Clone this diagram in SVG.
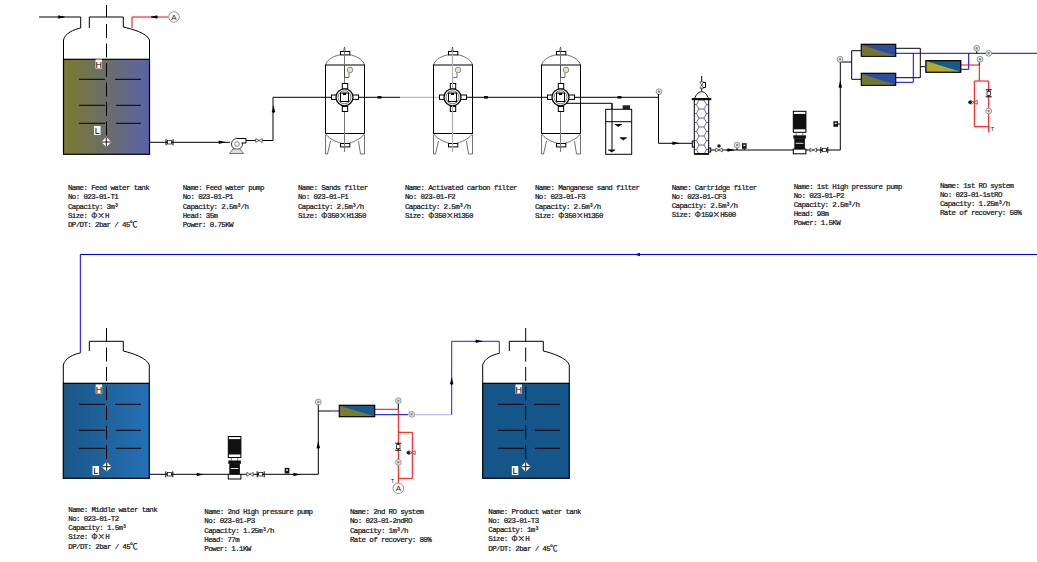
<svg xmlns="http://www.w3.org/2000/svg" xmlns:xlink="http://www.w3.org/1999/xlink" width="1037" height="562" viewBox="0 0 1037 562">
<style>
text{font-family:"Liberation Mono","Noto Sans CJK SC",monospace;font-size:7.5px;letter-spacing:-.64px;fill:#14161f;stroke:#14161f;stroke-width:.22px}
.w{font-family:"Noto Sans CJK SC",sans-serif;letter-spacing:0;font-size:7.6px}
.lv{font-family:"Liberation Sans",sans-serif;font-size:9px;letter-spacing:0;fill:#000;stroke:none;text-anchor:middle}
.t{font-family:"Liberation Sans",sans-serif;font-size:5px;letter-spacing:0;fill:#000;stroke:none}
.a{font-family:"Liberation Sans",sans-serif;font-size:8px;letter-spacing:0;fill:#222;stroke:none;text-anchor:middle}
.k{fill:none;stroke:#000;stroke-width:1}
.b{fill:none;stroke:#0000e6;stroke-width:1}
.r{fill:none;stroke:#f00;stroke-width:1}
.g{fill:none;stroke:#aaa;stroke-width:1}
.p{fill:none;stroke:#3a14d8;stroke-width:1}
.d{fill:none;stroke:#000;stroke-width:1;stroke-dasharray:14 5.5}
.thin{fill:none;stroke:#333;stroke-width:.7}
.wf{fill:#fff;stroke:#000;stroke-width:1}
</style>
<defs>
<linearGradient id="gOlive"><stop offset="0" stop-color="#7a7a2e"/><stop offset=".5" stop-color="#6b6e6a"/><stop offset="1" stop-color="#5a62a8"/></linearGradient>
<linearGradient id="gBlue"><stop offset="0" stop-color="#195787"/><stop offset="1" stop-color="#2570b5"/></linearGradient>
<pattern id="hex" width="15" height="9" patternUnits="userSpaceOnUse" x="694" y="100">
<path d="M2.500 4.500L5 0H10L12.500 4.500L10 9H5ZM0 4.500H2.500M12.500 4.500H15" fill="none" stroke="#27308a" stroke-width=".7"/>
</pattern>
<g id="arr"><polygon points="-3.2,-1.8 3.2,0 -3.2,1.8" fill="#000"/><path d="M-4 0h7" stroke="#000"/></g>
<g id="valve"><path d="M-3.500-3V3M3.500-3V3M-3.500 0h7" stroke="#000" fill="none"/><rect x="-2" y="-1.700" width="4" height="3.400" fill="#fff" stroke="#000" stroke-width=".7"/></g>
<g id="check"><path d="M-3.200-2L3.200 2V-2L-3.200 2Z" fill="#fff" stroke="#333" stroke-width=".7"/></g>
<g id="gauge"><circle r="2.900" fill="#e6ecd8" stroke="#8c8c8c" stroke-width=".9"/><circle r="1.200" fill="#7890b8"/></g>
<g id="inst"><rect x="-2.300" y="-2.800" width="4.600" height="5.600" fill="#111"/><rect x="-1" y="-1.400" width="2" height="1.600" fill="#ddd"/></g>
<g id="wm"><path d="M-3.500 0h7L0 2.600Z" fill="#111"/><path d="M-3.500 0h7" stroke="#111"/></g>
<g id="pumpV">
<rect x="0" y="0" width="12.600" height="21" fill="#111" stroke="#000"/><rect x=".6" y=".6" width="11.400" height="2" fill="#fff"/><rect x=".6" y="18" width="11.400" height="2.500" fill="#fff"/>
<path d="M3 21.500v3M9.500 21.500v3" stroke="#777"/>
<rect x="0" y="24" width="12.600" height="3.400" fill="#111"/>
<rect x="1" y="27" width="10.600" height="11" fill="#111"/><rect x="2.500" y="31.500" width="7.600" height="1" fill="#ddd"/>
<rect x="0" y="37.800" width="12.600" height="4.700" fill="#fff" stroke="#000"/>
</g>
<g id="diamond"><polygon points="0,-5 5,0 0,5 -5,0" fill="#fff"/><path d="M0-4.600V4.600M-4.600 0H4.600" stroke="#000" stroke-width=".9"/></g>
<g id="levels">
<path d="M-27 0H-1M9 0H35M-27 26H-1M10 26H35M-27 44H-1M10 44H35" stroke="#000" fill="none"/>
</g>
<g id="filter">
<path d="M325.500 65C327 59 335 55.500 340.500 54.800M349.500 54.800C355 55.500 363 59 364.500 65" class="thin"/>
<rect x="325.500" y="65" width="39" height="68.500" fill="none" stroke="#000"/>
<path d="M325.500 133.500C328 138 335 141.500 340.500 143M349.500 143C355 141.500 362 138 364.500 133.500" class="thin"/>
<rect x="340.500" y="51.500" width="9.300" height="3.400" class="wf"/>
<rect x="340.500" y="143.500" width="9.300" height="3.400" class="wf"/>
<path d="M325.500 135V154H327.500L330.500 141M364.500 135V154H360.500L358.500 141" class="thin"/>
<path d="M344.500 47L343.500 51.500M344.500 47L345.300 51.500" class="thin"/>
<path d="M344.500 51.500V152" stroke="#777" fill="none"/>
<path d="M344.500 65V77.500H349V73" class="thin"/>
<circle cx="350" cy="70" r="2.800" fill="#e4e4c8" stroke="#777" stroke-width=".8"/>
<rect x="331.500" y="95" width="6" height="4.400" class="wf"/><rect x="352.500" y="95" width="6" height="4.400" class="wf"/>
<rect x="342.300" y="83.500" width="5.400" height="5.400" class="wf"/><rect x="342.300" y="106.500" width="5.400" height="5" class="wf"/>
<circle cx="344.500" cy="97.300" r="8.500" fill="#fff" stroke="#111" stroke-width="1.300"/>
<circle cx="344.500" cy="97.300" r="6.500" fill="#fff" stroke="#555" stroke-width=".8"/>
<rect x="340.500" y="93" width="8" height="8.500" fill="#fff" stroke="#000"/><rect x="343" y="93" width="3" height="2" fill="#000"/>
</g>
<g id="mem"><rect width="34.400" height="12" fill="#2d4ca0" stroke="#000" stroke-width="1.200"/><polygon points="0.600,0.600 33.800,11.400 0.600,11.400" fill="#75752e"/></g>
</defs>

<rect width="1037" height="562" fill="#fff"/>

<g id="connectors">
<path class="k" d="M39 17H80.700V28"/>
<path class="r" d="M168 17H132V28"/>
<path class="k" d="M149.500 142.300H230M246 140.500H273V97.300H331M358.500 97.300H400"/>
<path class="g" d="M400 97.300H439.500"/>
<path class="k" d="M466.500 97.300H547.500M574.500 97.300H658.500V143.300H692.300"/>
<path class="k" d="M566.700 103.300H612V150"/>
<path class="k" d="M710.700 150H793M805.500 150H840.300V62"/>
<path class="k" d="M840.300 62H851.700M861.300 50.700H851.700V79.300H861.300M895.700 48.300H920.300V77.700H895.700M920.300 66.700H926"/>
<path class="b" d="M895.700 53.300H1037M895.700 82.300H913.300V53.300M960.700 69.300H968.700V53.300"/>
<path class="r" d="M960.700 65H979.300"/>
<path class="k" d="M979.300 65V61M976.700 51V53.300"/>
<path class="r" d="M979.300 65V81H974.300V126.700H988.700M979.300 81H988.700V132.300"/>
<path class="b" d="M1037 254.500H80.300V353"/>
<polygon points="634,254.500 640,252.800 640,256.200" fill="#0000e6"/>
<path class="k" d="M149.300 474.300H228.300M241 474.300H318.300V405M318.300 411H331.700"/>
<path class="b" d="M331.700 411H339.300M374.700 414.700H408"/>
<path class="r" d="M374.700 409.300H398.300V483M398.300 432.300H412.300V478.300H398.300"/>
<path class="k" d="M398.300 409.300V403.500"/>
<path stroke="#b4a8ff" fill="none" d="M415 414.700H451.700"/>
<path class="p" d="M451.700 414.700V341.300H499.300V353.300"/>

<use href="#arr" transform="translate(61.500 17)"/>
<use href="#arr" transform="translate(154 17) rotate(180)"/>
<use href="#valve" transform="translate(169.500 142.300)"/>
<use href="#arr" transform="translate(222 142.300)"/>
<use href="#check" transform="translate(259 140.500)"/>
<use href="#arr" transform="translate(273.500 109) rotate(-90)"/>
<rect x="377.500" y="96" width="4" height="2.600" fill="#111"/>
<rect x="484" y="96" width="4" height="2.600" fill="#111"/>
<rect x="617.500" y="96" width="4" height="2.600" fill="#111"/>
<use href="#gauge" x="659" y="91.700"/>
<path class="k" d="M658.500 94V97.300"/>
<use href="#arr" transform="translate(675.700 143.300)"/>
<use href="#check" transform="translate(719 150)"/>
<circle cx="719" cy="146" r="1.800" fill="#222"/>
<use href="#arr" transform="translate(730.700 150)"/>
<use href="#gauge" x="737" y="145"/>
<path class="k" d="M737 148V150M744.300 149V150"/>
<use href="#inst" x="744.300" y="146"/>
<use href="#check" transform="translate(813.300 150)"/>
<use href="#valve" transform="translate(824.300 150)"/>
<use href="#arr" transform="translate(840.300 84.300) rotate(-90)"/>
<use href="#inst" x="835.700" y="124"/>
<path class="k" d="M838 124H840"/>
<use href="#gauge" x="840" y="59.300"/>
<use href="#gauge" x="976.700" y="48.300"/>
<use href="#gauge" x="980" y="59.300"/>
<use href="#gauge" x="988.700" y="53.300"/>
<use href="#gauge" x="988.700" y="111"/>
<use href="#valve" transform="translate(988.700 93.300) rotate(90)"/>
<use href="#check" transform="translate(974 102.300)"/>
<circle cx="970" cy="102.300" r="1.800" fill="#222"/>
<path d="M970 102.300H972" stroke="#000"/>
<text class="t" x="991" y="131">T</text>

<use href="#valve" transform="translate(169.300 474.300)"/>
<use href="#arr" transform="translate(200 474.500)"/>
<use href="#check" transform="translate(250 474.300)"/>
<use href="#valve" transform="translate(260.700 474.300)"/>
<use href="#inst" x="287" y="470.700"/>
<use href="#arr" transform="translate(296.700 474.500)"/>
<use href="#arr" transform="translate(318.300 445) rotate(-90)"/>
<use href="#gauge" x="318.300" y="402"/>
<use href="#gauge" x="398.300" y="400.700"/>
<use href="#gauge" x="411.700" y="414.300"/>
<use href="#gauge" x="398.300" y="462.300"/>
<use href="#valve" transform="translate(398.300 446.700) rotate(90)"/>
<use href="#check" transform="translate(412 452.700)"/>
<circle cx="408.300" cy="452.700" r="1.800" fill="#222"/>
<text class="t" x="391" y="483">T</text>
<use href="#arr" transform="translate(451.700 381) rotate(-90)"/>
<use href="#arr" transform="translate(479 341.300)"/>
</g>

<g id="ref-a1"><circle cx="174" cy="17" r="5.300" fill="#fff" stroke="#777" stroke-width=".8"/><text class="a" x="174" y="20">A</text></g>
<g id="ref-a2"><circle cx="398.300" cy="488.300" r="5.300" fill="#fff" stroke="#777" stroke-width=".8"/><text class="a" x="398.300" y="491.300">A</text></g>

<g id="feed-tank">
<rect x="63.500" y="59.300" width="86" height="95" fill="url(#gOlive)" stroke="#000" stroke-width="1.200"/>
<path class="k" d="M63.500 59V40C65 33 74 29.500 80.700 28M89.300 28V17H123.300V27C132 29 147 33 149.500 40V59"/>
<path class="k" d="M106.500 5V17"/>
<path class="d" d="M106.500 24V140"/>
<use href="#levels" transform="translate(106 79.300)"/>
<rect x="95.500" y="59.500" width="6.500" height="9" fill="#fff"/><text class="lv" x="98.800" y="67.500">H</text>
<rect x="94" y="126" width="6.500" height="9" fill="#fff"/><text class="lv" x="97.200" y="134">L</text>
<use href="#diamond" x="106.300" y="142"/>
<text x="68" y="190.300">Name: Feed water tank</text>
<text x="68" y="199.300">No: 023-01-T1</text>
<text x="68" y="208.500">Capacity: 3m³</text>
<text x="68" y="217.500">Size: <tspan class="w">Φ×</tspan>H</text>
<text x="68" y="226.500">DP/DT: 2bar / 45<tspan class="w">℃</tspan></text>
</g>

<g id="feed-pump">
<circle cx="237" cy="144" r="5.500" fill="#fff" stroke="#333"/><circle cx="237" cy="144" r="2.300" fill="#fff" stroke="#555" stroke-width=".7"/>
<path d="M237 138.500H246V143H241.500" fill="#fff" stroke="#000"/>
<path d="M229.500 153.500H243.500L240 149H233Z" fill="#ddd" stroke="#555" stroke-width=".8"/>
<text x="182.700" y="190.300">Name: Feed water pump</text>
<text x="182.700" y="199.300">No: 023-01-P1</text>
<text x="182.700" y="208.500">Capacity: 2.5m³/h</text>
<text x="182.700" y="217.500">Head: 35m</text>
<text x="182.700" y="226.500">Power: 0.75KW</text>
</g>

<g id="sand-filter">
<use href="#filter"/>
<text x="298" y="190.300">Name: Sands filter</text>
<text x="298" y="199.300">No: 023-01-F1</text>
<text x="298" y="208.500">Capacity: 2.5m³/h</text>
<text x="298" y="217.500">Size: <tspan class="w">Φ</tspan>350<tspan class="w">×</tspan>H1350</text>
</g>
<g id="carbon-filter">
<use href="#filter" x="108"/>
<path d="M452.500 51.500V88M452.500 106V152" stroke="#b0b0b0" stroke-width="1.200" fill="none"/>
<text x="405" y="190.300">Name: Activated carbon filter</text>
<text x="405" y="199.300">No: 023-01-F2</text>
<text x="405" y="208.500">Capacity: 2.5m³/h</text>
<text x="405" y="217.500">Size: <tspan class="w">Φ</tspan>350<tspan class="w">×</tspan>H1350</text>
</g>
<g id="manganese-filter">
<use href="#filter" x="216"/>
<text x="535" y="190.300">Name: Manganese sand filter</text>
<text x="535" y="199.300">No: 023-01-F3</text>
<text x="535" y="208.500">Capacity: 2.5m³/h</text>
<text x="535" y="217.500">Size: <tspan class="w">Φ</tspan>350<tspan class="w">×</tspan>H1350</text>
</g>
<g id="dosing-tank">
<rect x="605.700" y="109.300" width="26" height="45" fill="#fff" stroke="#000"/>
<path class="k" d="M605.700 121.700H631.700M612 103.300V150"/>
<rect x="622.700" y="105.300" width="7.300" height="4" fill="#222"/>
<use href="#wm" x="618.300" y="124.500"/><use href="#wm" x="623.300" y="137.800"/><use href="#wm" x="611.700" y="150"/>
</g>

<g id="cartridge-filter">
<rect x="694.300" y="99.300" width="14.400" height="54.700" fill="url(#hex)" stroke="#000"/>
<path class="k" d="M694.500 99C696 94 699 91.700 701.700 91.700S707 94 708.500 99M701.700 76V91"/>
<rect x="691.700" y="98" width="19.600" height="2.200" fill="#111"/>
<rect x="694.300" y="153" width="14.400" height="1.800" fill="#111"/>
<use href="#check" transform="translate(701.700 85) rotate(90)"/>
<path class="k" d="M703 82.500h2.500V87.500H703"/>
<rect x="692.300" y="141" width="2" height="6" class="wf"/>
<rect x="708.700" y="148" width="2" height="4" class="wf"/>
<text x="671.700" y="189.700">Name: Cartridge filter</text>
<text x="671.700" y="198.700">No: 023-01-CF3</text>
<text x="671.700" y="207.800">Capacity: 2.5m³/h</text>
<text x="671.700" y="216.800">Size: <tspan class="w">Φ</tspan>159<tspan class="w">×</tspan>H500</text>
</g>

<g id="hp-pump-1">
<use href="#pumpV" x="793.300" y="111.300"/>
<text x="793.700" y="188.700">Name: 1st High pressure pump</text>
<text x="793.700" y="197.700">No: 023-01-P2</text>
<text x="793.700" y="206.700">Capacity: 2.5m³/h</text>
<text x="793.700" y="215.700">Head: 98m</text>
<text x="793.700" y="225">Power: 1.5KW</text>
</g>

<g id="ro-1">
<use href="#mem" x="861.300" y="44.300"/>
<use href="#mem" x="861.300" y="73.300"/>
<rect x="925" y="60" width="36.500" height="13" fill="#999"/>
<rect x="926" y="60.700" width="34.700" height="11.500" fill="#17598f" stroke="#000" stroke-width="1.200"/>
<polygon points="926.600,61.300 960,71.600 926.600,71.600" fill="#b3ac22"/>
<text x="940" y="188.300">Name: 1st RO system</text>
<text x="940" y="197.300">No: 023-01-1stRO</text>
<text x="940" y="206.300">Capacity: 1.25m³/h</text>
<text x="940" y="215.300">Rate of recovery: 50%</text>
</g>

<g id="middle-tank">
<rect x="63.300" y="383.300" width="86" height="95" fill="url(#gBlue)" stroke="#000" stroke-width="1.200"/>
<path class="k" d="M63.300 383V365C65 358 74 354 80.300 353M89.300 351V341.300H123.300V351C132 353 147 358 149.300 365V383"/>
<path class="d" d="M106.500 328V464"/>
<use href="#levels" transform="translate(106 404.300)"/>
<rect x="95.700" y="384.500" width="6.500" height="9" fill="#fff"/><text class="lv" x="99" y="392.500">H</text>
<rect x="92.500" y="466" width="6.500" height="9" fill="#fff"/><text class="lv" x="95.700" y="474">L</text>
<use href="#diamond" x="106.700" y="466.700"/>
<text x="68.300" y="512.300">Name: Middle water tank</text>
<text x="68.300" y="521">No: 023-01-T2</text>
<text x="68.300" y="530">Capacity: 1.5m³</text>
<text x="68.300" y="539.300">Size: <tspan class="w">Φ×</tspan>H</text>
<text x="68.300" y="549">DP/DT: 2bar / 45<tspan class="w">℃</tspan></text>
</g>

<g id="hp-pump-2">
<use href="#pumpV" x="228.300" y="436.500"/>
<text x="204.300" y="514.300">Name: 2nd High pressure pump</text>
<text x="204.300" y="523.300">No: 023-01-P3</text>
<text x="204.300" y="533">Capacity: 1.25m³/h</text>
<text x="204.300" y="542.300">Head: 77m</text>
<text x="204.300" y="551.300">Power: 1.1KW</text>
</g>

<g id="ro-2">
<rect x="339.300" y="405.300" width="35.400" height="11.400" fill="#17598f" stroke="#000" stroke-width="1.200"/>
<polygon points="339.900,405.900 374,416.100 339.900,416.100" fill="#7c7a2b"/>
<text x="350" y="514.300">Name: 2nd RO system</text>
<text x="350" y="523.300">No: 023-01-2ndRO</text>
<text x="350" y="533">Capacity: 1m³/h</text>
<text x="350" y="542.300">Rate of recovery: 80%</text>
</g>

<g id="product-tank">
<rect x="482.700" y="383.300" width="86.600" height="95" fill="#14558a" stroke="#000" stroke-width="1.200"/>
<path class="k" d="M482.700 383V365C485 358 492 355 499.300 353.300M509.300 351V341.300H543.300V351C552 353 567 358 569.300 365V383"/>
<path class="d" d="M525.700 328V464"/>
<use href="#levels" transform="translate(525 404.300)"/>
<rect x="515.500" y="384.500" width="6.500" height="9" fill="#fff"/><text class="lv" x="518.700" y="392.500">H</text>
<rect x="511.800" y="466" width="6.500" height="9" fill="#fff"/><text class="lv" x="515" y="474">L</text>
<use href="#diamond" x="525.700" y="466.700"/>
<text x="488.300" y="514.300">Name: Product water tank</text>
<text x="488.300" y="523">No: 023-01-T3</text>
<text x="488.300" y="532.300">Capacity: 1m³</text>
<text x="488.300" y="541.300">Size: <tspan class="w">Φ×</tspan>H</text>
<text x="488.300" y="551.300">DP/DT: 2bar / 45<tspan class="w">℃</tspan></text>
</g>
</svg>
